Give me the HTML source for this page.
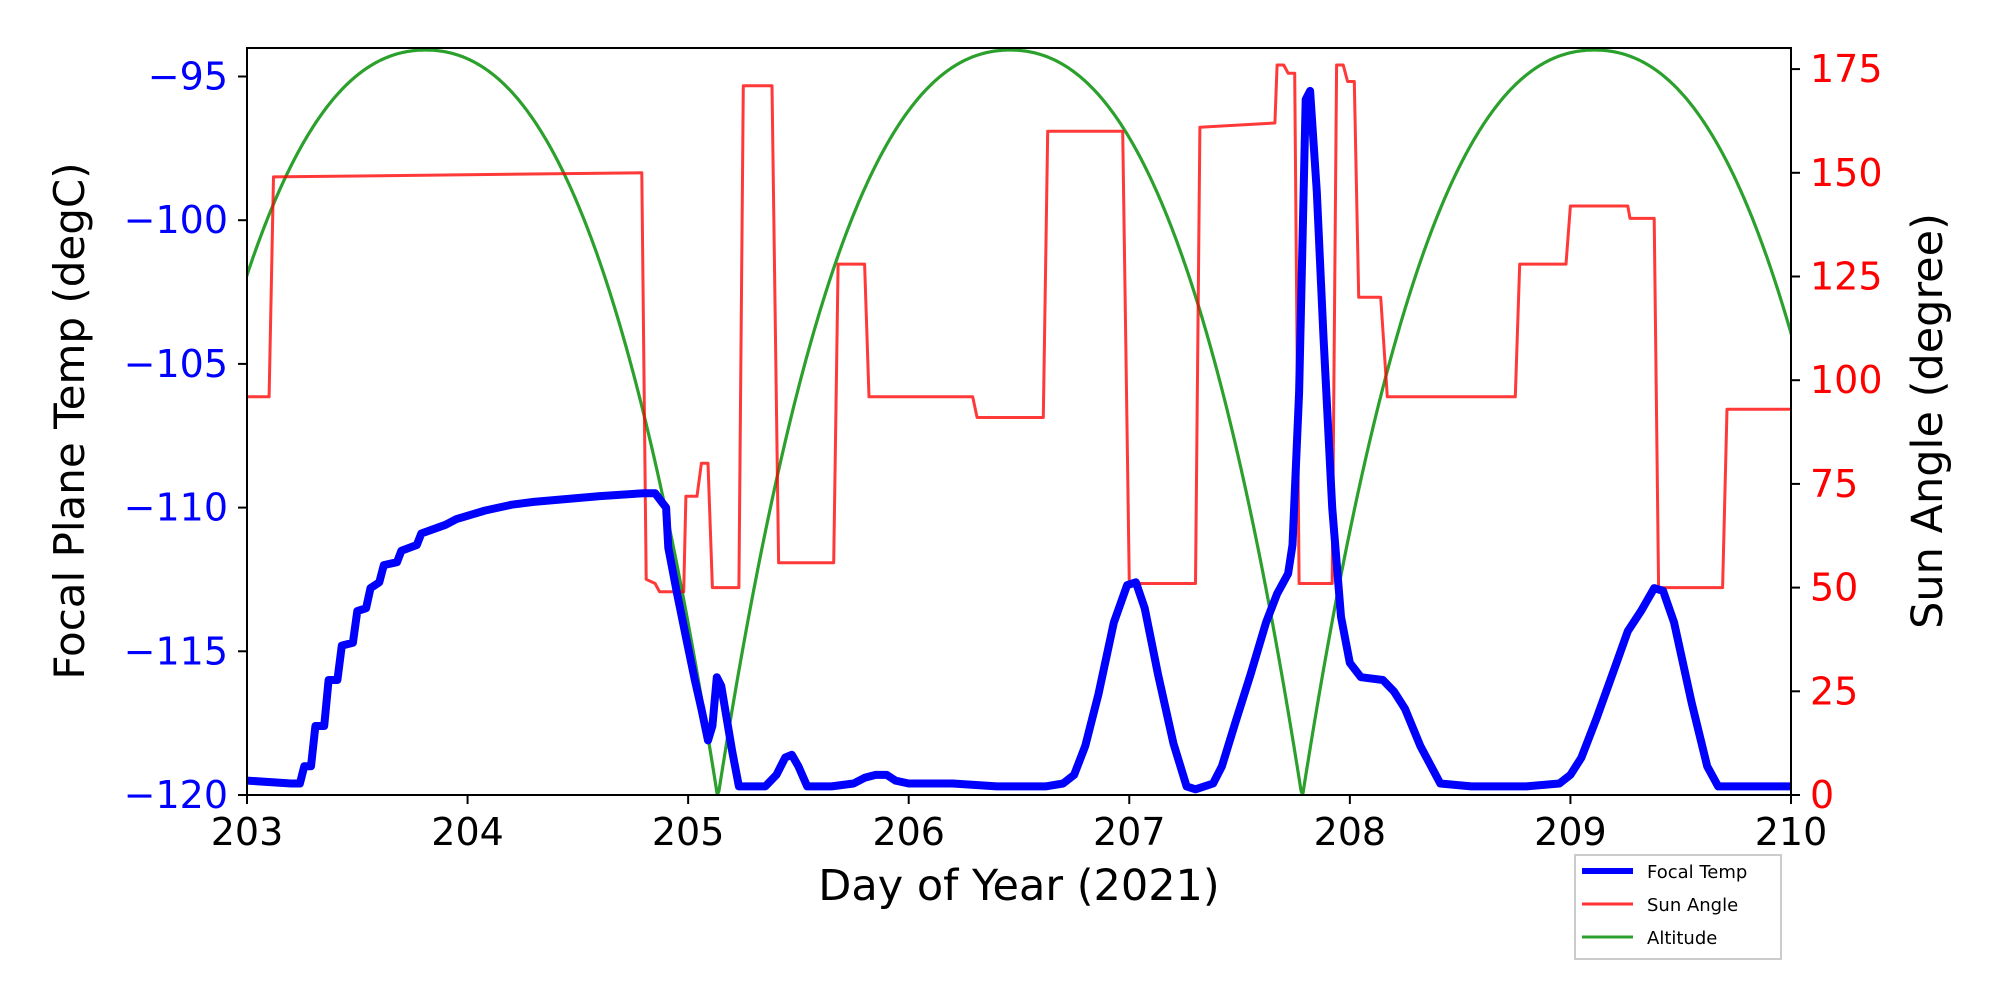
<!DOCTYPE html>
<html><head><meta charset="utf-8"><style>
html,body{margin:0;padding:0;background:#fff;}
svg text{font-family:"DejaVu Sans","Liberation Sans",sans-serif;}
</style></head><body>
<svg id="s" width="2000" height="1000" xmlns="http://www.w3.org/2000/svg">
<defs><clipPath id="c"><rect x="247" y="48" width="1544" height="747"/></clipPath></defs>
<g id="plot" clip-path="url(#c)"></g>
<rect x="247" y="48" width="1544" height="747" fill="none" stroke="#000" stroke-width="2"/>
<g id="ticks"></g>
<text x="1019" y="900" font-size="43" text-anchor="middle">Day of Year (2021)</text>
<text transform="translate(84,421) rotate(-90)" font-size="42" text-anchor="middle">Focal Plane Temp (degC)</text>
<text transform="translate(1942,421) rotate(-90)" font-size="43" text-anchor="middle">Sun Angle (degree)</text>
<rect x="1575" y="855" width="206" height="104" fill="#fff" stroke="#ccc" stroke-width="2"/>
<line x1="1582" y1="871" x2="1633" y2="871" stroke="#0000ff" stroke-width="6"/>
<line x1="1582" y1="904" x2="1633" y2="904" stroke="#ff3333" stroke-width="3"/>
<line x1="1582" y1="937" x2="1633" y2="937" stroke="#2ca02c" stroke-width="3"/>
<text x="1647" y="878" font-size="18">Focal Temp</text>
<text x="1647" y="911" font-size="18">Sun Angle</text>
<text x="1647" y="944" font-size="18">Altitude</text>
</svg>
<script>
var NS="http://www.w3.org/2000/svg";
function X(d){return 247+(d-203)*220.57;}
function YT(c){return 76.5+(-95-c)*28.74;}
function YS(a){return 795-a*4.148;}
function pl(pts,col,w,parent){var p=document.createElementNS(NS,"polyline");p.setAttribute("points",pts.map(function(q){return q[0].toFixed(1)+","+q[1].toFixed(1)}).join(" "));p.setAttribute("fill","none");p.setAttribute("stroke",col);p.setAttribute("stroke-width",w);p.setAttribute("stroke-linejoin","round");p.setAttribute("stroke-linecap","round");parent.appendChild(p);}
var g=document.getElementById("plot");
// Altitude
function alt(x){var peaks=[425.6-584.4,425.6,1010,1594.4,2178];var d=1e9;peaks.forEach(function(p){d=Math.min(d,Math.abs(x-p));});var s=Math.min(1,d/291.4);return 793-743*(1-0.5*s*s-0.5*s*s*s);}
var ap=[];for(var x=240;x<=1800;x+=1){ap.push([x,alt(x)]);}
pl(ap,"#2ca02c",3.2,g);
// Sun angle
var sun=[[203,96],[203.1,96],[203.12,149],[204.79,150],[204.81,52],[204.85,51],[204.87,49],[204.98,49],[204.99,72],[205.04,72],[205.06,80],[205.09,80],[205.11,50],[205.23,50],[205.25,171],[205.38,171],[205.41,56],[205.66,56],[205.68,128],[205.8,128],[205.82,96],[206.29,96],[206.31,91],[206.61,91],[206.63,160],[206.97,160],[207.0,51],[207.3,51],[207.32,161],[207.66,162],[207.67,176],[207.7,176],[207.72,174],[207.75,174],[207.77,51],[207.92,51],[207.94,176],[207.97,176],[207.99,172],[208.02,172],[208.04,120],[208.14,120],[208.17,96],[208.75,96],[208.77,128],[208.98,128],[209.0,142],[209.26,142],[209.27,139],[209.38,139],[209.4,50],[209.69,50],[209.71,93],[210,93]];
pl(sun.map(function(q){return[X(q[0]),YS(q[1])]}),"rgba(255,0,0,0.78)",3,g);
// Focal temp
var ft=[[203,-119.5],[203.2,-119.6],[203.24,-119.6],[203.26,-119.0],[203.29,-119.0],[203.31,-117.6],[203.35,-117.6],[203.37,-116.0],[203.41,-116.0],[203.43,-114.8],[203.48,-114.7],[203.5,-113.6],[203.54,-113.5],[203.56,-112.8],[203.6,-112.6],[203.62,-112.0],[203.68,-111.9],[203.7,-111.5],[203.77,-111.3],[203.79,-110.9],[203.9,-110.6],[203.95,-110.4],[204.08,-110.1],[204.2,-109.9],[204.3,-109.8],[204.45,-109.7],[204.6,-109.6],[204.8,-109.5],[204.85,-109.5],[204.88,-109.8],[204.9,-110.0],[204.91,-111.4],[204.95,-113.0],[204.99,-114.5],[205.03,-116.0],[205.06,-117.0],[205.09,-118.1],[205.11,-117.6],[205.13,-115.9],[205.15,-116.2],[205.2,-118.5],[205.23,-119.7],[205.35,-119.7],[205.4,-119.3],[205.44,-118.7],[205.47,-118.6],[205.5,-119.0],[205.54,-119.7],[205.65,-119.7],[205.75,-119.6],[205.8,-119.4],[205.85,-119.3],[205.9,-119.3],[205.94,-119.5],[206.0,-119.6],[206.2,-119.6],[206.4,-119.7],[206.62,-119.7],[206.7,-119.6],[206.75,-119.3],[206.8,-118.3],[206.86,-116.5],[206.93,-114.0],[206.99,-112.7],[207.03,-112.6],[207.07,-113.5],[207.13,-115.8],[207.2,-118.2],[207.26,-119.7],[207.3,-119.8],[207.38,-119.6],[207.42,-119.0],[207.48,-117.5],[207.55,-115.8],[207.62,-114.0],[207.67,-113.0],[207.72,-112.3],[207.74,-111.3],[207.77,-106],[207.8,-95.8],[207.82,-95.5],[207.85,-99],[207.88,-104],[207.92,-110],[207.96,-113.8],[208.0,-115.4],[208.05,-115.9],[208.15,-116.0],[208.2,-116.4],[208.25,-117.0],[208.32,-118.3],[208.41,-119.6],[208.55,-119.7],[208.8,-119.7],[208.95,-119.6],[209.0,-119.3],[209.05,-118.7],[209.12,-117.3],[209.2,-115.6],[209.26,-114.3],[209.32,-113.6],[209.38,-112.8],[209.42,-112.9],[209.47,-114.0],[209.55,-116.8],[209.62,-119.0],[209.67,-119.7],[210,-119.7]];
pl(ft.map(function(q){return[X(q[0]),YT(q[1])]}),"#0000ff",8,g);
// ticks
var t=document.getElementById("ticks");
function ln(x1,y1,x2,y2){var l=document.createElementNS(NS,"line");l.setAttribute("x1",x1);l.setAttribute("y1",y1);l.setAttribute("x2",x2);l.setAttribute("y2",y2);l.setAttribute("stroke","#000");l.setAttribute("stroke-width",2);t.appendChild(l);}
function tx(x,y,s,anchor,col){var e=document.createElementNS(NS,"text");e.setAttribute("x",x);e.setAttribute("y",y);e.setAttribute("font-size",38);e.setAttribute("text-anchor",anchor);e.setAttribute("fill",col);e.textContent=s;t.appendChild(e);}
for(var d=203;d<=210;d++){var x=X(d);ln(x,795,x,804);tx(x,845,String(d),"middle","#000");}
[-95,-100,-105,-110,-115,-120].forEach(function(c){var y=YT(c);ln(238,y,247,y);tx(228,y+13,"\u2212"+(-c),"end","#0000ff");});
[0,25,50,75,100,125,150,175].forEach(function(a){var y=YS(a);ln(1791,y,1800,y);tx(1810,y+13,String(a),"start","#ff0000");});
</script>
</body></html>
